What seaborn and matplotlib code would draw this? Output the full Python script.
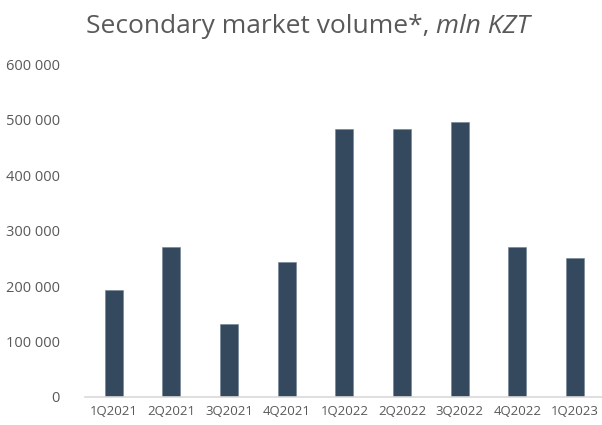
import matplotlib
matplotlib.use("Agg")
import matplotlib.pyplot as plt
import seaborn as sns
import pandas as pd
from matplotlib.ticker import FuncFormatter

quarters = ["1Q2021", "2Q2021", "3Q2021", "4Q2021", "1Q2022",
            "2Q2022", "3Q2022", "4Q2022", "1Q2023"]
volume = [193000, 271000, 131000, 243000, 484000,
          484000, 495000, 270000, 250000]

df = pd.DataFrame({"quarter": quarters, "volume": volume})

sns.set_theme(style="white")
plt.rcParams["font.family"] = ["Open Sans", "DejaVu Sans"]

text_grey = "#595959"
bar_color = "#35495e"

fig = plt.figure(figsize=(6.02, 4.25), dpi=100)
ax = fig.add_axes([0.141, 0.066, 0.862, 0.783])

sns.barplot(data=df, x="quarter", y="volume", color=bar_color,
            saturation=1, width=0.31, edgecolor="#6f8194", linewidth=0.4, ax=ax)

ax.set_ylim(0, 600000)
ax.set_xlim(-0.5, 8.5)
ax.set_yticks(range(0, 600001, 100000))
ax.yaxis.set_major_formatter(FuncFormatter(lambda v, p: f"{int(v):,}".replace(",", " ")))
ax.set_xlabel("")
ax.set_ylabel("")

for s in ["top", "right", "left"]:
    ax.spines[s].set_visible(False)
ax.spines["bottom"].set_color("#d9d9d9")
ax.spines["bottom"].set_linewidth(1.2)

ax.tick_params(axis="y", colors=text_grey, labelsize=10.5, length=0, pad=18)
ax.tick_params(axis="x", colors=text_grey, labelsize=9.5, length=0, pad=6)

# Title: upright part followed by an italic unit
t1 = fig.text(86 / 602, 0.922, "Secondary market volume*, ", ha="left", va="baseline",
              fontsize=19, color=text_grey)
fig.canvas.draw()
bb = t1.get_window_extent(renderer=fig.canvas.get_renderer())
x_end = fig.transFigure.inverted().transform((bb.x1, bb.y0))[0]
fig.text(x_end, 0.922, "mln KZT", ha="left", va="baseline",
         fontsize=19, color=text_grey, style="italic")

fig.savefig("out.png", dpi=100)
